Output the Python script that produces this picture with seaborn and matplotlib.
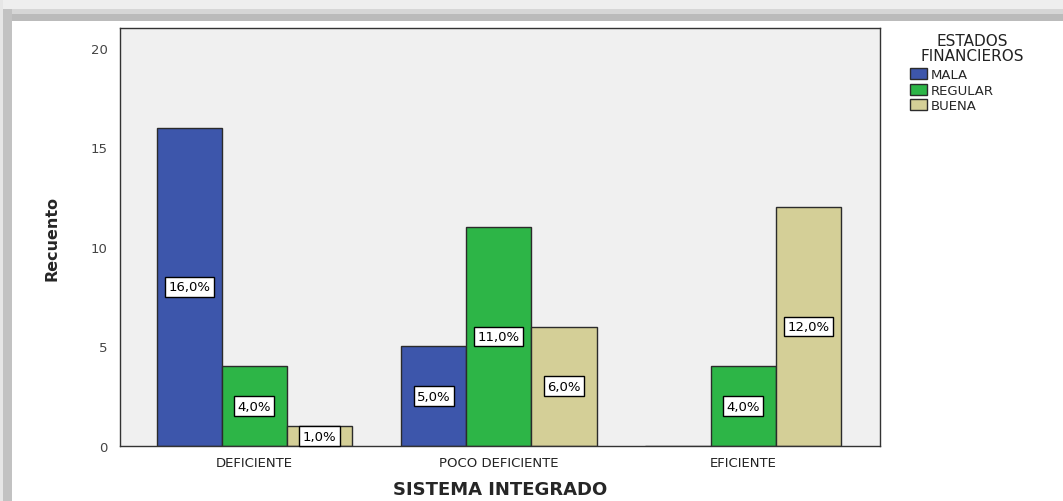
import pandas as pd
import seaborn as sns
import matplotlib.pyplot as plt
from matplotlib.patches import Rectangle

categorias = ['DEFICIENTE', 'POCO DEFICIENTE', 'EFICIENTE']
niveles = ['MALA', 'REGULAR', 'BUENA']
mala = [16, 5, 0]
regular = [4, 11, 4]
buena = [1, 6, 12]
pct_mala = ['16,0%', '5,0%', '']
pct_regular = ['4,0%', '11,0%', '4,0%']
pct_buena = ['1,0%', '6,0%', '12,0%']

colores = {'MALA': '#3D56AB', 'REGULAR': '#2DB547', 'BUENA': '#D4CF97'}

datos = pd.DataFrame({
    'sistema': categorias * 3,
    'estado': [n for n in niveles for _ in categorias],
    'recuento': mala + regular + buena,
})

sns.set_style('white')
plt.rcParams['font.family'] = ['DejaVu Sans']

fig = plt.figure(figsize=(10.63, 5.02), dpi=100)
ax = fig.add_axes([120 / 1063, 55 / 502, 760 / 1063, 418 / 502])

sns.barplot(data=datos, x='sistema', y='recuento', hue='estado',
            order=categorias, hue_order=niveles, palette=colores,
            edgecolor='#2b2b2b', linewidth=1, saturation=1,
            legend=False, ax=ax)

etiquetas = [pct_mala, pct_regular, pct_buena]
for cont, labs in zip(ax.containers, etiquetas):
    ax.bar_label(cont, labels=labs, label_type='center', fontsize=9.5,
                 color='black',
                 bbox=dict(boxstyle='square,pad=0.25', fc='white',
                           ec='black', lw=1))

ax.set_facecolor('#F0F0F0')
ax.set_ylim(0, 21)
ax.set_xlim(-0.55, 2.56)
ax.set_yticks([0, 5, 10, 15, 20])
ax.tick_params(axis='y', length=7, width=1, color='#333333',
               labelsize=9.5, labelcolor='#444444', pad=2)
ax.tick_params(axis='x', length=5, width=1, color='#333333',
               labelsize=9.5, labelcolor='#222222', pad=2)
for s in ax.spines.values():
    s.set_color('#333333')
    s.set_linewidth(1)

ax.set_xlabel('SISTEMA INTEGRADO', fontsize=13, fontweight='bold',
              labelpad=8)
ax.set_ylabel('Recuento', fontsize=11.5, fontweight='bold', labelpad=22)

# leyenda: titulo aparte para controlar el espacio
fig.text(972 / 1063, 1 - 49 / 502, 'ESTADOS\nFINANCIEROS', ha='center',
         va='center', fontsize=11, color='#222222', linespacing=1.0,
         multialignment='center')
handles = [Rectangle((0, 0), 1, 1, fc=colores[n], ec='#2b2b2b', lw=1)
           for n in niveles]
fig.legend(handles, niveles, loc='upper left',
           bbox_to_anchor=(910 / 1063, 1 - 69 / 502),
           frameon=False, fontsize=9.5,
           handlelength=1.3, handleheight=0.9, handletextpad=0.3,
           labelspacing=0.2, borderpad=0, borderaxespad=0)

# marco gris del recorte original
fig.patches.append(Rectangle((0, 1 - 10 / 502), 1, 10 / 502,
                             transform=fig.transFigure, fc='#EEEEEE', ec='none'))
fig.patches.append(Rectangle((0, 1 - 15 / 502), 1, 5 / 502,
                             transform=fig.transFigure, fc='#D6D6D6', ec='none'))
fig.patches.append(Rectangle((0, 1 - 22 / 502), 1, 7 / 502,
                             transform=fig.transFigure, fc='#BBBBBB', ec='none'))
fig.patches.append(Rectangle((0, 0), 3 / 1063, 1,
                             transform=fig.transFigure, fc='#E6E6E6', ec='none'))
fig.patches.append(Rectangle((3 / 1063, 0), 9 / 1063, 1 - 10 / 502,
                             transform=fig.transFigure, fc='#C2C2C2', ec='none'))

fig.savefig('out.png', dpi=100)
